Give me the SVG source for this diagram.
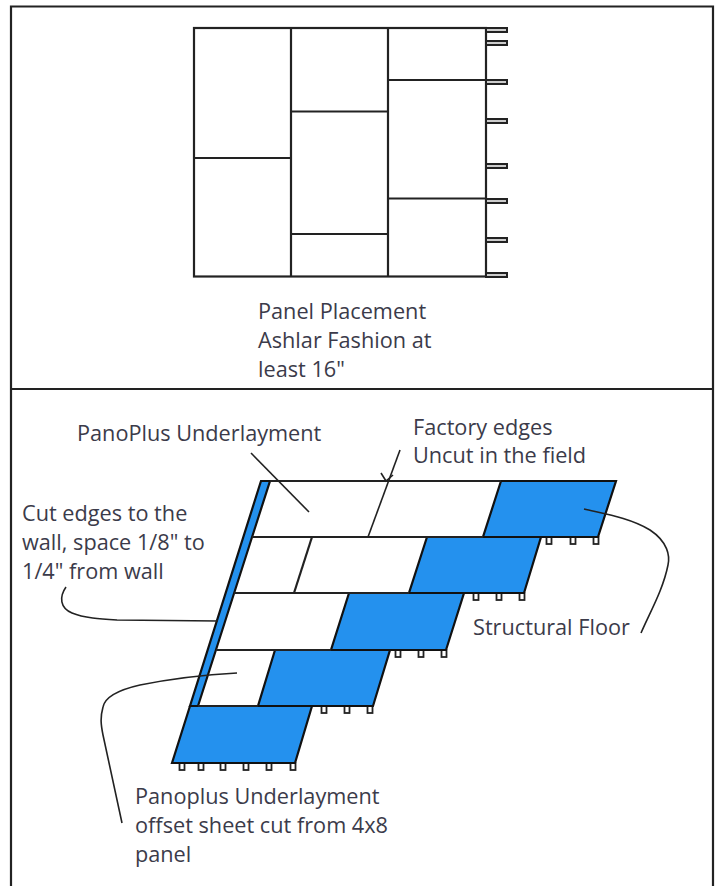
<svg xmlns="http://www.w3.org/2000/svg" width="717" height="886" viewBox="0 0 717 886">
<style>
.l{fill:none;stroke:#222;stroke-width:2.200}
.t{fill:none;stroke:#222;stroke-width:1.600}
.tick{fill:#ccc;stroke:#222;stroke-width:2}
.foot{fill:#fff;stroke:#222;stroke-width:1.800}
.b{fill:#2491ee;stroke:#111;stroke-width:2.200;stroke-linejoin:miter}
text{font-family:"Open Sans","Noto Sans","DejaVu Sans",sans-serif;font-size:21.700px;fill:#3b3b4a}
</style>
<rect width="717" height="886" fill="#fff"/>
<g id="frame">
<path class="l" d="M11 886V6.500H713V886M11 389H713"/>
</g>
<g id="panel-plan">
<rect class="l" x="194" y="28" width="292" height="248.500"/>
<path class="l" d="M291 28V276M388 28V276M194 158H291M291 111.500H388M291 234H388M388 80H486M388 198.500H486"/>
<g id="plan-ticks">
<rect class="tick" x="486" y="28" width="21" height="4"/>
<rect class="tick" x="486" y="41" width="21" height="4"/>
<rect class="tick" x="486" y="80" width="21" height="4"/>
<rect class="tick" x="486" y="119" width="21" height="4"/>
<rect class="tick" x="486" y="164" width="21" height="4"/>
<rect class="tick" x="486" y="199" width="21" height="4"/>
<rect class="tick" x="486" y="238" width="21" height="4"/>
<rect class="tick" x="486" y="273" width="21" height="4"/>
</g>
</g>
<g id="plan-label">
<text x="258" y="319">Panel Placement</text>
<text x="258" y="348">Ashlar Fashion at</text>
<text x="258" y="377">least 16"</text>
</g>
<g id="floor-feet">
<rect class="foot" x="179.500" y="763" width="5" height="7"/><rect class="foot" x="198.500" y="763" width="5" height="7"/><rect class="foot" x="220.500" y="763" width="5" height="7"/><rect class="foot" x="243.500" y="763" width="5" height="7"/><rect class="foot" x="266.500" y="763" width="5" height="7"/><rect class="foot" x="290.500" y="763" width="5" height="7"/>
<rect class="foot" x="321.500" y="706" width="5" height="7"/><rect class="foot" x="344.500" y="706" width="5" height="7"/><rect class="foot" x="367.500" y="706" width="5" height="7"/>
<rect class="foot" x="395.500" y="650" width="5" height="7"/><rect class="foot" x="418.500" y="650" width="5" height="7"/><rect class="foot" x="441.500" y="650" width="5" height="7"/>
<rect class="foot" x="473.500" y="593" width="5" height="7"/><rect class="foot" x="496.500" y="593" width="5" height="7"/><rect class="foot" x="519.500" y="593" width="5" height="7"/>
<rect class="foot" x="546.500" y="537" width="5" height="7"/><rect class="foot" x="570.500" y="537" width="5" height="7"/><rect class="foot" x="593.500" y="537" width="5" height="7"/>
</g>
<g id="structural-floor">
<polygon class="b" points="501,481 616,481 598,537 483,537"/>
<polygon class="b" points="427,537 541,537 524,593 409,593"/>
<polygon class="b" points="349,593 464,593 446,650 331,650"/>
<polygon class="b" points="275,650 390,650 373,706 258,706"/>
<polygon class="b" points="190,706 312,706 295,763 172,763"/>
</g>
<g id="underlayment">
<polygon class="b" points="261,481 270,481 198,706 190,706"/>
<path class="l" d="M270 481H501M252 537H483M234 593H409M216 650H331M198 706H258"/>
<path class="l" d="M312 537L294 593"/>
</g>
<g id="connectors">
<path class="t" d="M251 453L309 512"/>
<path class="t" d="M368 537L400 450"/>
<path class="t" d="M381 473L386 481L393 475"/>
<path class="t" d="M66 587C59 597 60 608 72 613C84 618 100 619 117 620L218 621"/>
<path class="t" d="M237 673C200 675 170 679 140 685C118 690 105 697 103 707C100 718 101 725 103 735L122 823"/>
<path class="t" d="M584 509C605 514 630 518 650 530C668 542 670 556 668 565C663 590 650 612 641 633"/>
</g>
<g id="labels">
<text x="77" y="441">PanoPlus Underlayment</text>
<text x="413" y="435">Factory edges</text>
<text x="413" y="463">Uncut in the field</text>
<text x="22" y="521">Cut edges to the</text>
<text x="22" y="550">wall, space 1/8" to</text>
<text x="22" y="579">1/4" from wall</text>
<text x="473" y="635">Structural Floor</text>
<text x="135" y="804">Panoplus Underlayment</text>
<text x="135" y="833">offset sheet cut from 4x8</text>
<text x="135" y="862">panel</text>
</g>
</svg>
